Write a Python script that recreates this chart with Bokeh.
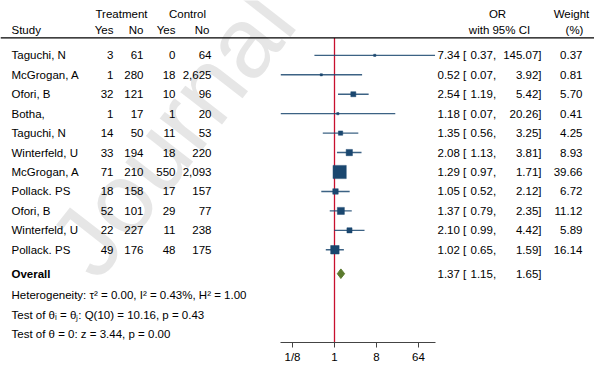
import numpy as np
from bokeh.plotting import figure
from bokeh.models import Range1d, FixedTicker, Span
from bokeh.core.properties import value
from bokeh.embed import file_html
from bokeh.resources import INLINE

# ---- data ----
studies = ["Taguchi, N", "McGrogan, A", "Ofori, B", "Botha,", "Taguchi, N",
           "Winterfeld, U", "McGrogan, A", "Pollack. PS", "Ofori, B",
           "Winterfeld, U", "Pollack. PS"]
t_yes = [3, 1, 32, 1, 14, 33, 71, 18, 52, 22, 49]
t_no = [61, 280, 121, 17, 50, 194, 210, 158, 101, 227, 176]
c_yes = [0, 18, 10, 1, 11, 18, 550, 17, 29, 11, 48]
c_no = [64, 2625, 96, 20, 53, 220, 2093, 157, 77, 238, 175]
odds = [7.34, 0.52, 2.54, 1.18, 1.35, 2.08, 1.29, 1.05, 1.37, 2.10, 1.02]
ci_lo = [0.37, 0.07, 1.19, 0.07, 0.56, 1.13, 0.97, 0.52, 0.79, 0.99, 0.65]
ci_hi = [145.07, 3.92, 5.42, 20.26, 3.25, 3.81, 1.71, 2.12, 2.35, 4.42, 1.59]
weight = [0.37, 0.81, 5.70, 0.41, 4.25, 8.93, 39.66, 6.72, 11.12, 5.89, 16.14]
overall_or, overall_lo, overall_hi = 1.37, 1.15, 1.65
tick_vals = [0.125, 1, 8, 64]
tick_labels = ["1/8", "1", "8", "64"]
het_text = "Heterogeneity: \u03c4\u00b2 = 0.00, I\u00b2 = 0.43%, H\u00b2 = 1.00"
q_text = "Test of \u03b8\u1d62 = \u03b8\u2c7c: Q(10) = 10.16, p = 0.43"
z_text = "Test of \u03b8 = 0: z = 3.44, p = 0.00"

# ---- layout helpers ----
W, H = 594, 365
PX1 = 334.0      # page x of OR = 1
PPU = 14.0       # pixels per log2 unit
AXIS_Y = 343


def X(px):
    return 2 ** ((px - PX1) / PPU)


FONT = value("Liberation Sans")
FS = "11.5px"
NAVY = "#1a476f"

row_y = [55 + 19.5 * i for i in range(len(studies))]
y_overall = 274

p = figure(width=W, height=H, output_backend="svg", toolbar_location=None,
           x_axis_type="log", x_range=Range1d(X(0), X(W)),
           y_range=Range1d(AXIS_Y, 0), y_axis_location=None, min_border=0,
           min_border_bottom=H - AXIS_Y,
           background_fill_color="white", border_fill_color="white")
p.outline_line_color = None
p.grid.visible = False

# watermark
p.text(x=[X(70)], y=[262], text=["Journal"], angle=np.deg2rad(52),
       text_font=FONT, text_font_size="100px", text_color="#e6e6e6",
       text_align="left", text_baseline="alphabetic")

# header rule
p.add_layout(Span(location=37.5, dimension="width", line_color="black",
                  line_width=1.2))

# null line
p.segment(x0=[1], y0=[37.5], x1=[1], y1=[AXIS_Y], line_color="#c8102e",
          line_width=1.3)

# CI lines and markers
p.segment(x0=ci_lo, y0=row_y, x1=ci_hi, y1=row_y, line_color=NAVY,
          line_width=1.4, line_alpha=0.85)
sizes = [max(2.2, 2.1 * np.sqrt(w)) for w in weight]
p.scatter(x=odds, y=row_y, size=sizes, marker="square", fill_color=NAVY,
          line_color=NAVY, line_width=0.5)

# overall diamond
p.patch(x=[overall_lo, overall_or, overall_hi, overall_or],
        y=[y_overall, y_overall - 4.8, y_overall, y_overall + 4.8],
        fill_color="#5b7a2e", line_color="#5b7a2e")


def txt(xs_px, ys, texts, align="left", bold=False):
    p.text(x=[X(v) for v in xs_px], y=ys, text=texts, text_font=FONT,
           text_font_size=FS, text_align=align, text_baseline="middle",
           text_color="black",
           text_font_style="bold" if bold else "normal")


n = len(studies)
# headers
txt([121, 187], [14, 14], ["Treatment", "Control"], "center")
txt([11], [30], ["Study"])
txt([113, 143, 175, 209], [30] * 4, ["Yes", "No", "Yes", "No"], "right")
txt([497, 571], [14, 14], ["OR", "Weight"], "center")
txt([499, 574], [30, 30], ["with 95% CI", "(%)"], "center")

# table body
txt([11] * n, row_y, studies)
txt([113] * n, row_y, [str(v) for v in t_yes], "right")
txt([143] * n, row_y, [str(v) for v in t_no], "right")
txt([175] * n, row_y, [str(v) for v in c_yes], "right")
txt([211] * n, row_y, [f"{v:,}" for v in c_no], "right")
txt([437] * n, row_y, [f"{v:.2f} [" for v in odds])
txt([470] * n, row_y, [f"{v:.2f}," for v in ci_lo])
txt([541] * n, row_y, [f"{v:.2f}]" for v in ci_hi], "right")
txt([582] * n, row_y, [f"{v:.2f}" for v in weight], "right")

# overall and stats
txt([11], [y_overall], ["Overall"], bold=True)
txt([437], [y_overall], [f"{overall_or:.2f} ["])
txt([470], [y_overall], [f"{overall_lo:.2f},"])
txt([541], [y_overall], [f"{overall_hi:.2f}]"], "right")
txt([11, 11, 11], [295, 315, 334], [het_text, q_text, z_text])

# x axis
ax = p.xaxis[0]
ax.ticker = FixedTicker(ticks=tick_vals)
ax.major_label_overrides = {v: l for v, l in zip(tick_vals, tick_labels)}
ax.bounds = (min(ci_lo), max(ci_hi))
ax.minor_tick_line_color = None
ax.major_tick_in = 0
ax.major_tick_out = 5
ax.axis_line_color = "#444444"
ax.major_tick_line_color = "#444444"
ax.major_label_text_font = "Liberation Sans"
ax.major_label_text_font_size = FS
ax.major_label_text_color = "black"
ax.major_label_standoff = 3

open("out.html", "w").write(file_html(p, INLINE))
